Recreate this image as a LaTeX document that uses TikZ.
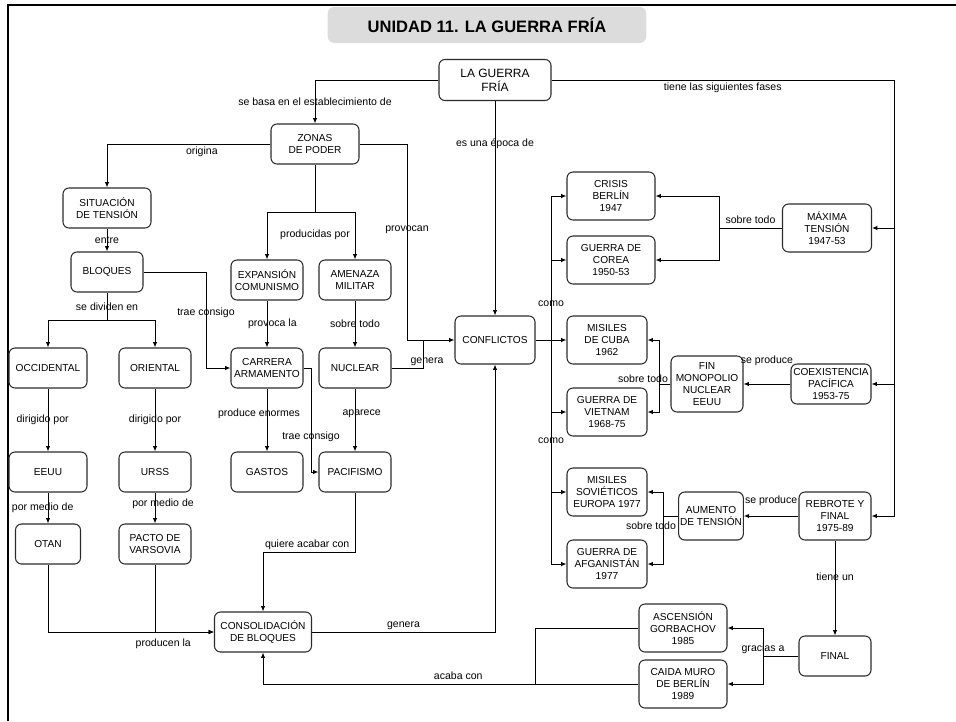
\documentclass[tikz,border=0pt]{standalone}
\usepackage{fontspec}
\setmainfont{Liberation Sans}
\usetikzlibrary{arrows.meta}
\usepackage{xcolor}
\definecolor{titlegrey}{HTML}{DCDCDC}
\definecolor{boxline}{HTML}{2B2B2B}
\newcommand{\boxfont}{\fontsize{7.6}{9.2}\selectfont}
\newcommand{\labfont}{\fontsize{7.9}{9.4}\selectfont}
\newcommand{\guerrafont}{\fontsize{9}{10.5}\selectfont}
\newcommand{\titlefont}{\fontsize{12.4}{14}\selectfont\bfseries}
\tikzset{
  concept/.style={rectangle, draw=boxline, line width=0.8pt, rounded corners=4.5pt,
                  minimum width=54pt, minimum height=30pt, inner sep=1pt,
                  align=center, font=\boxfont},
  widebox/.style={concept, minimum width=66pt},
  tallbox/.style={concept, minimum width=60pt, minimum height=36pt},
  titlebox/.style={rectangle, fill=titlegrey, rounded corners=5pt,
                   minimum width=239pt, minimum height=27pt, font=\titlefont},
  frame/.style={line width=1.6pt},
  link/.style={-{Latex[length=4pt,width=3.4pt]}, line width=0.75pt},
  plainlink/.style={line width=0.75pt},
  lab/.style={font=\labfont, inner sep=1pt},
}

\begin{document}
\begin{tikzpicture}[x=0.75pt, y=-0.75pt]
  \useasboundingbox (0,0) rectangle (956,721);

  % --- Marco y titulo ---
  \draw[frame] (8,721) -- (8,5) -- (956,5);
  \node[titlebox] (titulo) at (487,25) {UNIDAD 11. LA GUERRA FRÍA};

  % --- Conceptos: columna izquierda ---
  \node[concept, minimum width=84pt, minimum height=30.75pt, font=\guerrafont] (guerra) at (495,80) {LA GUERRA\\FRÍA};
  \node[widebox] (zonas)      at (315,144) {ZONAS\\DE PODER};
  \node[widebox] (situacion)  at (107,208) {SITUACIÓN\\DE TENSIÓN};
  \node[concept] (bloques)    at (107,272) {BLOQUES};
  \node[concept] (expansion)  at (267,280) {EXPANSIÓN\\COMUNISMO};
  \node[concept] (amenaza)    at (355,280) {AMENAZA\\MILITAR};
  \node[concept, minimum width=58.5pt] (occidental) at (48,368) {OCCIDENTAL};
  \node[concept] (oriental)   at (155,368) {ORIENTAL};
  \node[concept] (carrera)    at (267,368) {CARRERA\\ARMAMENTO};
  \node[concept] (nuclear)    at (355,368) {NUCLEAR};
  \node[concept, minimum width=58.5pt] (eeuu) at (48,472) {EEUU};
  \node[concept] (urss)       at (155,472) {URSS};
  \node[concept] (gastos)     at (267,472) {GASTOS};
  \node[concept] (pacifismo)  at (355,472) {PACIFISMO};
  \node[concept, minimum width=48.75pt] (otan) at (48,544) {OTAN};
  \node[concept] (pacto)      at (155,544) {PACTO DE\\VARSOVIA};
  \node[concept, minimum width=72.75pt] (consolidacion) at (263,632) {CONSOLIDACIÓN\\DE BLOQUES};
  \node[tallbox] (conflictos) at (495,340) {CONFLICTOS};

  % --- Conceptos: fases ---
  \node[tallbox, minimum width=66pt] (crisis) at (611,196) {CRISIS\\BERLÍN\\1947};
  \node[tallbox, minimum width=66pt] (corea)  at (611,260) {GUERRA DE\\COREA\\1950-53};
  \node[tallbox, minimum width=66.75pt] (maxima) at (827,228) {MÁXIMA\\TENSIÓN\\1947-53};
  \node[tallbox] (cuba)       at (607,340) {MISILES\\DE CUBA\\1962};
  \node[tallbox] (vietnam)    at (607,412) {GUERRA DE\\VIETNAM\\1968-75};
  \node[concept, minimum height=42pt] (fin) at (707,384) {FIN\\MONOPOLIO\\NUCLEAR\\EEUU};
  \node[concept, minimum width=60pt, inner ysep=0.5pt] (coexistencia) at (831,384) {COEXISTENCIA\\PACÍFICA\\1953-75};
  \node[tallbox] (sovieticos) at (607,492) {MISILES\\SOVIÉTICOS\\EUROPA 1977};
  \node[tallbox] (afganistan) at (607,564) {GUERRA DE\\AFGANISTÁN\\1977};
  \node[concept, minimum width=48pt, minimum height=36pt] (aumento) at (711,516) {AUMENTO\\DE TENSIÓN};
  \node[concept, minimum height=36pt] (rebrote) at (835,516) {REBROTE Y\\FINAL\\1975-89};
  \node[concept] (final)      at (835,656) {FINAL};
  \node[tallbox, minimum width=66pt] (ascension) at (683,628) {ASCENSIÓN\\GORBACHOV\\1985};
  \node[tallbox, minimum width=66pt] (caida)     at (683,684) {CAIDA MURO\\DE BERLÍN\\1989};

  % --- Puntos de reparto ---
  \coordinate (fases)  at (894,80);
  \coordinate (zsplit) at (315,212);
  \coordinate (prov)   at (407,144);
  \coordinate (bsplit) at (107,320);
  \coordinate (btrae)  at (206,272);
  \coordinate (ctrae)  at (311,368);
  \coordinate (njoin)  at (423,340);
  \coordinate (pq)     at (355,552);
  \coordinate (bus)    at (551,340);
  \coordinate (msplit) at (719,228);
  \coordinate (fsplit) at (659,384);
  \coordinate (asplit) at (663,516);
  \coordinate (gsplit) at (763,656);
  \coordinate (acaba)  at (535,684);

  % --- Enlaces desde LA GUERRA FRIA ---
  \draw[link] (guerra.west) -| (zonas.north) node[lab, pos=0.75] {se basa en el establecimiento de};
  \draw[link] (guerra.south) -- (conflictos.north) node[lab, pos=0.2] {es una época de};
  \draw[link] (guerra.east) -- (fases) node[lab, midway, below=1pt] {tiene las siguientes fases} |- (rebrote.east);
  \draw[link] (fases |- maxima.east) -- (maxima.east);
  \draw[link] (fases |- coexistencia.east) -- (coexistencia.east);

  % --- Zonas de poder ---
  \draw[link] (zonas.west) -| (situacion.north) node[lab, pos=0.21, below=1pt] {origina};
  \draw[plainlink] (zonas.south) -- (zsplit) node[lab, below=12pt] {producidas por};
  \draw[link] (zsplit) -| (expansion.north);
  \draw[link] (zsplit) -| (amenaza.north);
  \draw[link] (zonas.east) -- (prov) |- (conflictos.west) node[lab, pos=0.22] {provocan};

  % --- Bloques ---
  \draw[link] (situacion) -- (bloques) node[lab, midway] {entre};
  \draw[plainlink] (bloques.south) -- (bsplit) node[lab, midway] {se dividen en};
  \draw[link] (bsplit) -| (occidental.north);
  \draw[link] (bsplit) -| (oriental.north);
  \draw[link] (bloques.east) -- (btrae) |- (carrera.west) node[lab, pos=0.21] {trae consigo};
  \draw[link] (occidental) -- (eeuu) node[lab, midway, xshift=-4pt] {dirigido por};
  \draw[link] (oriental) -- (urss) node[lab, midway] {dirigido por};
  \draw[link] (eeuu) -- (otan) node[lab, midway, xshift=-4pt] {por medio de};
  \draw[link] (urss) -- (pacto) node[lab, midway, xshift=6pt, yshift=3pt] {por medio de};
  \draw[link] (otan.south) |- (consolidacion.west);
  \draw[link] (pacto.south) |- (consolidacion.west) node[lab, pos=0.57, below=4pt] {producen la};

  % --- Carrera de armamentos ---
  \draw[link] (expansion) -- (carrera) node[lab, midway, xshift=4pt] {provoca la};
  \draw[link] (amenaza) -- (nuclear) node[lab, midway] {sobre todo};
  \draw[link] (carrera) -- (gastos) node[lab, pos=0.4, xshift=-6pt] {produce enormes};
  \draw[link] (nuclear) -- (pacifismo) node[lab, pos=0.4, xshift=5pt] {aparece};
  \draw[link] (carrera.east) -- (ctrae) |- (pacifismo.west) node[lab, pos=0.33] {trae consigo};
  \draw[plainlink] (nuclear.east) -| (njoin) node[lab, pos=0.5, above, xshift=3pt] {genera};
  \draw[link] (pacifismo.south) -- (pq) -| (consolidacion.north) node[lab, pos=0.26, above] {quiere acabar con};
  \draw[link] (consolidacion.east) -| (conflictos.south) node[lab, pos=0.25, above] {genera};

  % --- Conflictos ---
  \draw[link] (conflictos.east) -- (cuba.west);
  \draw[link] (bus) |- (crisis.west) node[lab, pos=0.125] {como};
  \draw[link] (bus) |- (corea.west);
  \draw[link] (bus) |- (vietnam.west);
  \draw[link] (bus) |- (sovieticos.west) node[lab, pos=0.33] {como};
  \draw[link] (bus) |- (afganistan.west);

  % --- Fases ---
  \draw[plainlink] (maxima.west) -- (msplit) node[lab, midway, above=2pt] {sobre todo};
  \draw[link] (msplit) |- (crisis.east);
  \draw[link] (msplit) |- (corea.east);
  \draw[link] (coexistencia) -- (fin) node[lab, midway, above=12pt] {se produce};
  \draw[plainlink] (fin.west) -- (fsplit) node[lab, at end, above, xshift=-12pt] {sobre todo};
  \draw[link] (fsplit) |- (cuba.east);
  \draw[link] (fsplit) |- (vietnam.east);
  \draw[link] (rebrote) -- (aumento) node[lab, midway, above=6pt] {se produce};
  \draw[plainlink] (aumento.west) -- (asplit) node[lab, at end, below=3pt, xshift=-9pt] {sobre todo};
  \draw[link] (asplit) |- (sovieticos.east);
  \draw[link] (asplit) |- (afganistan.east);
  \draw[link] (rebrote) -- (final) node[lab, pos=0.38] {tiene un};
  \draw[plainlink] (final.west) -- (gsplit) node[lab, at end, above] {gracias a};
  \draw[link] (gsplit) |- (ascension.east);
  \draw[link] (gsplit) |- (caida.east);
  \draw[plainlink] (ascension.west) -| (acaba);
  \draw[link] (caida.west) -| (consolidacion.south) node[lab, pos=0.24, above=2pt] {acaba con};
\end{tikzpicture}
\end{document}
